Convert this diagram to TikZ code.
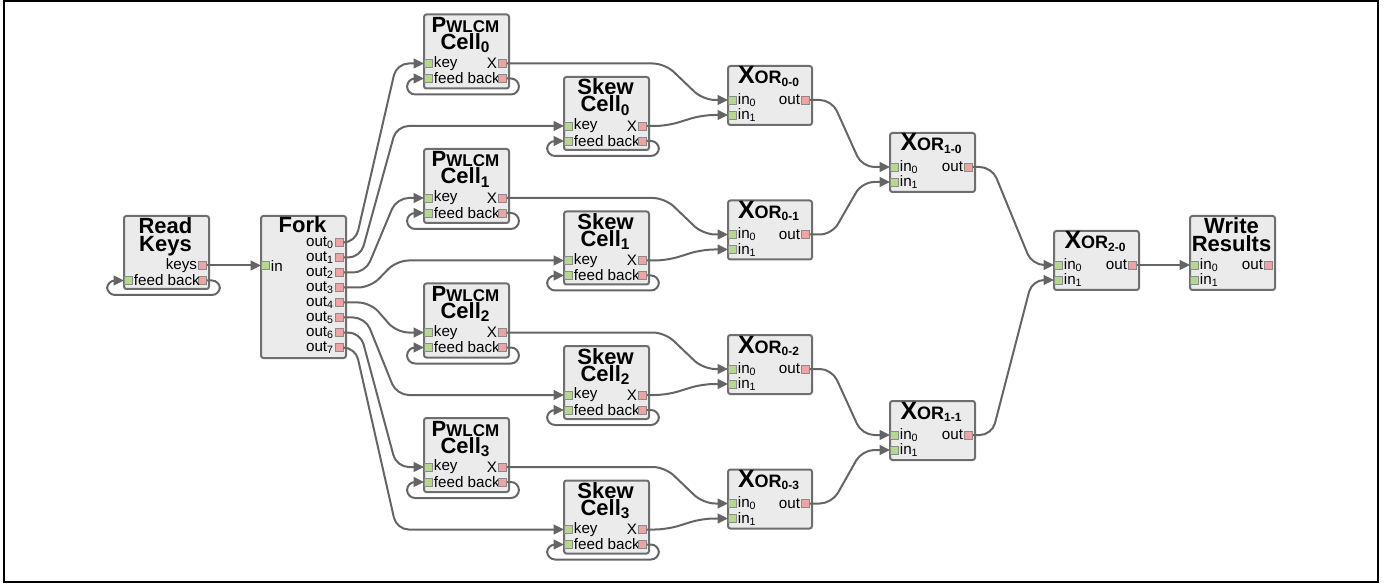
\documentclass[tikz,border=0pt]{standalone}
\usepackage{fontspec}
\setmainfont{Liberation Sans}
\usetikzlibrary{arrows.meta, calc}

\definecolor{boxfill}{HTML}{EBEBEB}
\definecolor{boxline}{HTML}{6E6E6E}
\definecolor{wiregray}{HTML}{656565}
\definecolor{portgreen}{HTML}{B4D98A}
\definecolor{portred}{HTML}{F0A3A3}

\begin{document}
\begin{tikzpicture}[x=0.5pt, y=-0.5pt, >={Triangle[length=5.2pt,width=4.8pt]},
    blockbox/.style={draw=boxline, fill=boxfill, line width=1pt, rounded corners=1.2pt, anchor=north west, inner sep=0pt},
    inport/.style={draw=boxline!80, fill=portgreen, line width=0.4pt, minimum size=4pt, inner sep=0pt},
    outport/.style={inport, fill=portred},
    blocktitle/.style={font=\bfseries\fontsize{11}{11}\selectfont, anchor=base, inner sep=0pt},
    xortitle/.style={blocktitle, font=\bfseries\fontsize{9}{9}\selectfont},
    portlbl/.style={font=\fontsize{7.6}{8}\selectfont, inner sep=0.3pt},
    wire/.style={draw=wiregray, line width=1pt, ->, rounded corners=6pt},
    loopwire/.style={wire, rounded corners=4pt}]

        % 그림 영역과 바깥 테두리 (Bounding box and frame)
        \useasboundingbox (0,0) rectangle (1395,587);
        \draw[line width=1pt] (3.5,1.5) rectangle (1378,582);

        % 키 읽기 블록 (Read Keys)
        \node[blockbox, minimum width=42.5pt, minimum height=36.5pt] (rk) at (123,215) {};
        \node[blocktitle] (rk-t1) at (165.5,234) {Read};
        \node[blocktitle] (rk-t2) at (165.5,252) {Keys};
        \node[outport, label={[portlbl]left:keys}] (rk-keys) at (202.5,265.5) {};
        \node[outport] (rk-fbo) at (202.5,280.5) {};
        \node[inport, label={[portlbl]right:feed back}] (rk-fbi) at (128.5,280.5) {};
        \draw[loopwire] (rk-fbo.east) -- ++(13,0) |- ($(rk.south)+(0,5)$) -| ($(rk-fbi.west)+(-17,0)$) -- (rk-fbi.west);

        % 분기 블록 (Fork)
        \node[blockbox, minimum width=42.5pt, minimum height=71pt] (fk) at (260,215) {};
        \node[blocktitle] (fk-t) at (302.5,233) {Fork};
        \node[inport, label={[portlbl]right:in}] (fk-in) at (265.5,265.5) {};
        \foreach \k in {0,...,7}
            \node[outport, label={[portlbl]left:out\textsubscript{\k}}] (fk-o\k) at (339.5,{242.5+15*\k}) {};
        \draw[wire] (rk-keys) -- (fk-in);

        % 네 쌍의 셀과 첫 단 XOR (PWLCM / Skew cells and first XOR stage)
        \foreach \i in {0,...,3} {
            \pgfmathsetmacro\pcy{13.5+134.5*\i}
            \pgfmathsetmacro\sky{76+134.5*\i}
            \pgfmathsetmacro\xry{65+134.5*\i}
            \pgfmathtruncatemacro\ka{2*\i}
            \pgfmathtruncatemacro\kb{2*\i+1}
            \pgfmathsetmacro\da{29-5*abs(\ka-3.5)}
            \pgfmathsetmacro\db{29-5*abs(\kb-3.5)}

            % PWLCM 셀
            \node[blockbox, minimum width=42.5pt, minimum height=37pt] (pc\i) at (423,\pcy) {};
            \node[blocktitle] (pc\i-t1) at (465.5,{\pcy+19}) {P{\fontsize{8.5}{9}\selectfont WLCM}};
            \node[blocktitle] (pc\i-t2) at (465.5,{\pcy+36}) {Cell\textsubscript{\i}};
            \node[inport, label={[portlbl]right:key}] (pc\i-key) at (428.5,{\pcy+50}) {};
            \node[inport, label={[portlbl]right:feed back}] (pc\i-fbi) at (428.5,{\pcy+65}) {};
            \node[outport, label={[portlbl]left:X}] (pc\i-x) at (502.5,{\pcy+50}) {};
            \node[outport] (pc\i-fbo) at (502.5,{\pcy+65}) {};
            \draw[loopwire] (pc\i-fbo.east) -- ++(12,0) |- ($(pc\i.south)+(0,5)$) -| ($(pc\i-fbi.west)+(-17,0)$) -- (pc\i-fbi.west);

            % Skew 셀
            \node[blockbox, minimum width=42.5pt, minimum height=36.5pt] (sk\i) at (563,\sky) {};
            \node[blocktitle] (sk\i-t1) at (605.5,{\sky+19}) {Skew};
            \node[blocktitle] (sk\i-t2) at (605.5,{\sky+36}) {Cell\textsubscript{\i}};
            \node[inport, label={[portlbl]right:key}] (sk\i-key) at (568.5,{\sky+50}) {};
            \node[inport, label={[portlbl]right:feed back}] (sk\i-fbi) at (568.5,{\sky+65}) {};
            \node[outport, label={[portlbl]left:X}] (sk\i-x) at (642.5,{\sky+50}) {};
            \node[outport] (sk\i-fbo) at (642.5,{\sky+65}) {};
            \draw[loopwire] (sk\i-fbo.east) -- ++(12,0) |- ($(sk\i.south)+(0,5)$) -| ($(sk\i-fbi.west)+(-17,0)$) -- (sk\i-fbi.west);

            % 첫 단 XOR
            \node[blockbox, minimum width=42pt, minimum height=29.5pt] (xa\i) at (727,\xry) {};
            \node[xortitle] (xa\i-t) at (769,{\xry+19}) {{\fontsize{12.5}{12}\selectfont X}OR\textsubscript{0-\i}};
            \node[inport, label={[portlbl]right:in\textsubscript{0}}] (xa\i-in0) at (732.5,{\xry+35}) {};
            \node[inport, label={[portlbl]right:in\textsubscript{1}}] (xa\i-in1) at (732.5,{\xry+50}) {};
            \node[outport, label={[portlbl]left:out}] (xa\i-out) at (805.5,{\xry+35}) {};

            % 분기에서 셀로 (Fork to cells)
            \draw[wire] (fk-o\ka.east) -- ++(\da,0) -- ($(pc\i-key.west)+(-27.5,0)$) -- (pc\i-key.west);
            \draw[wire] (fk-o\kb.east) -- ++(\db,0) -- ($(sk\i-key.west)+(-167.5,0)$) -- (sk\i-key.west);

            % 셀에서 XOR로 (Cells to XOR)
            \draw[wire] (pc\i-x.east) -- ++(158,0) -- ($(xa\i-in0.west)+(-25,0)$) -- (xa\i-in0.west);
            \draw[wire] (sk\i-x.east) -- ++(20,0) -- ($(xa\i-in1.west)+(-26,0)$) -- (xa\i-in1.west);
        }

        % 둘째 단 XOR (Second XOR stage)
        \foreach \j/\y in {0/132, 1/400} {
            \node[blockbox, minimum width=42.5pt, minimum height=29.5pt] (xb\j) at (889,\y) {};
            \node[xortitle] (xb\j-t) at (931.5,{\y+19}) {{\fontsize{12.5}{12}\selectfont X}OR\textsubscript{1-\j}};
            \node[inport, label={[portlbl]right:in\textsubscript{0}}] (xb\j-in0) at (894.5,{\y+35}) {};
            \node[inport, label={[portlbl]right:in\textsubscript{1}}] (xb\j-in1) at (894.5,{\y+50}) {};
            \node[outport, label={[portlbl]left:out}] (xb\j-out) at (968.5,{\y+35}) {};
        }
        \draw[wire] (xa0-out.east) -- ++(22,0) -- ($(xb0-in0.west)+(-28,0)$) -- (xb0-in0.west);
        \draw[wire] (xa1-out.east) -- ++(22,0) -- ($(xb0-in1.west)+(-28,0)$) -- (xb0-in1.west);
        \draw[wire] (xa2-out.east) -- ++(22,0) -- ($(xb1-in0.west)+(-28,0)$) -- (xb1-in0.west);
        \draw[wire] (xa3-out.east) -- ++(22,0) -- ($(xb1-in1.west)+(-28,0)$) -- (xb1-in1.west);

        % 마지막 XOR (Final XOR)
        \node[blockbox, minimum width=42.5pt, minimum height=29.5pt] (xc) at (1053,230) {};
        \node[xortitle] (xc-t) at (1095.5,249) {{\fontsize{12.5}{12}\selectfont X}OR\textsubscript{2-0}};
        \node[inport, label={[portlbl]right:in\textsubscript{0}}] (xc-in0) at (1058.5,265) {};
        \node[inport, label={[portlbl]right:in\textsubscript{1}}] (xc-in1) at (1058.5,280) {};
        \node[outport, label={[portlbl]left:out}] (xc-out) at (1132.5,265) {};
        \draw[wire] (xb0-out.east) -- ++(19,0) -- ($(xc-in0.west)+(-22,0)$) -- (xc-in0.west);
        \draw[wire] (xb1-out.east) -- ++(19,0) -- ($(xc-in1.west)+(-22,0)$) -- (xc-in1.west);

        % 결과 쓰기 블록 (Write Results)
        \node[blockbox, minimum width=42.5pt, minimum height=37pt] (wr) at (1189,215) {};
        \node[blocktitle] (wr-t1) at (1231.5,234) {Write};
        \node[blocktitle] (wr-t2) at (1231.5,252) {Results};
        \node[inport, label={[portlbl]right:in\textsubscript{0}}] (wr-in0) at (1194.5,265) {};
        \node[inport, label={[portlbl]right:in\textsubscript{1}}] (wr-in1) at (1194.5,280) {};
        \node[outport, label={[portlbl]left:out}] (wr-out) at (1268.5,265) {};
        \draw[wire] (xc-out) -- (wr-in0);

    \end{tikzpicture}
\end{document}
